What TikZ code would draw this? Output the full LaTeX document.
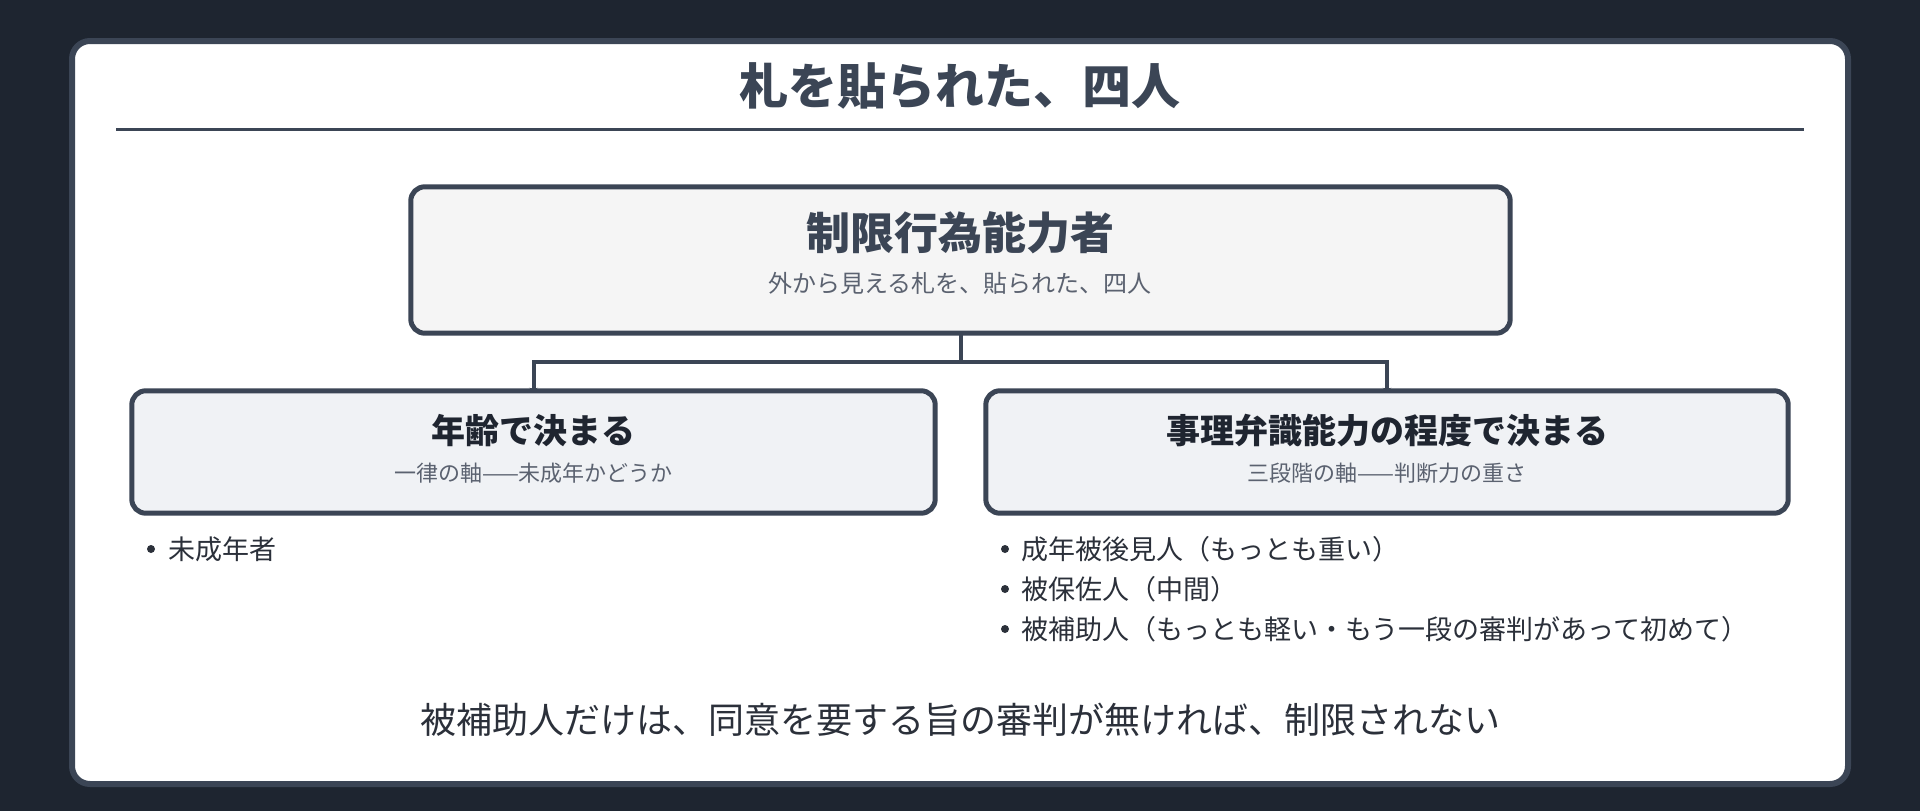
\documentclass[tikz,border=0pt]{standalone}
\usepackage{fontspec}
\setmainfont{Noto Sans CJK JP}
\usetikzlibrary{arrows.meta}

\definecolor{bgdark}{HTML}{1E2530}
\definecolor{slate}{HTML}{3B4555}
\definecolor{topfill}{HTML}{F5F5F5}
\definecolor{boxfill}{HTML}{F0F2F5}
\definecolor{headink}{HTML}{1F2530}
\definecolor{subink}{HTML}{5B6270}
\definecolor{bodyink}{HTML}{2B303A}

\begin{document}
\begin{tikzpicture}[x=1pt, y=-1pt,
    box/.style={draw=slate, line width=5pt, rounded corners=14pt, inner sep=0pt},
    head/.style={font=\bfseries\fontsize{34}{34}\selectfont, text=headink, inner sep=0pt},
    sub/.style={font=\fontsize{22}{22}\selectfont, text=subink, inner sep=0pt},
    item/.style={font=\fontsize{27}{27}\selectfont, text=bodyink, anchor=west, inner sep=0pt},
    dot/.style={circle, fill=bodyink, minimum size=8pt, inner sep=0pt},
    link/.style={draw=slate, line width=4pt, -{Stealth[length=3pt, width=9pt]}}]
    \useasboundingbox (0,0) rectangle (1920,811);
    \fill[bgdark] (0,0) rectangle (1920,811);
    \draw[slate, fill=white, line width=6pt, rounded corners=18pt] (72,41) rectangle (1848,784);

    % title and rule
    \node[font=\bfseries\fontsize{49}{49}\selectfont, text=slate, inner sep=0pt] (title) at (960,86) {札を貼られた、四人};
    \coordinate (ruleL) at (116,129);
    \coordinate (ruleR) at (1804,129);
    \draw[slate, line width=3pt] (ruleL) -- (ruleR);

    % connectors
    \node[minimum width=1099pt, minimum height=146pt, inner sep=0pt] (top) at (960.5,260) {};
    \node[minimum width=803pt, minimum height=122pt, inner sep=0pt] (age) at (533.5,452) {};
    \node[minimum width=802pt, minimum height=122pt, inner sep=0pt] (mind) at (1387,452) {};
    \coordinate (split) at (960.5,362);
    \draw[link] (top.south) -- (split) -| (age.north);
    \draw[link] (split) -| (mind.north);

    % boxes
    \draw[box, fill=topfill] (top.north west) rectangle (top.south east);
    \draw[box, fill=boxfill] (age.north west) rectangle (age.south east);
    \draw[box, fill=boxfill] (mind.north west) rectangle (mind.south east);

    \node[head, font=\bfseries\fontsize{44}{44}\selectfont, text=slate] (topHead) at (960,233) {制限行為能力者};
    \node[sub, font=\fontsize{24}{24}\selectfont] (topSub) at (960,283) {外から見える札を、貼られた、四人};
    \node[head] (ageHead) at (533.5,431) {年齢で決まる};
    \node[sub] (ageSub) at (533.5,473) {一律の軸——未成年かどうか};
    \node[head] (mindHead) at (1387,431) {事理弁識能力の程度で決まる};
    \node[sub] (mindSub) at (1387,473) {三段階の軸——判断力の重さ};

    % lists
    \node[dot] (d1) at (151,549) {};
    \node[item] (i1) at (168,549) {未成年者};
    \node[dot] (d2) at (1005,549) {};
    \node[item] (i2) at (1021,549) {成年被後見人（もっとも重い）};
    \node[dot] (d3) at (1005,589) {};
    \node[item] (i3) at (1021,589) {被保佐人（中間）};
    \node[dot] (d4) at (1005,629) {};
    \node[item] (i4) at (1021,629) {被補助人（もっとも軽い・もう一段の審判があって初めて）};

    \node[font=\fontsize{36}{36}\selectfont, text=bodyink, inner sep=0pt] (note) at (960,720) {被補助人だけは、同意を要する旨の審判が無ければ、制限されない};
\end{tikzpicture}
\end{document}
